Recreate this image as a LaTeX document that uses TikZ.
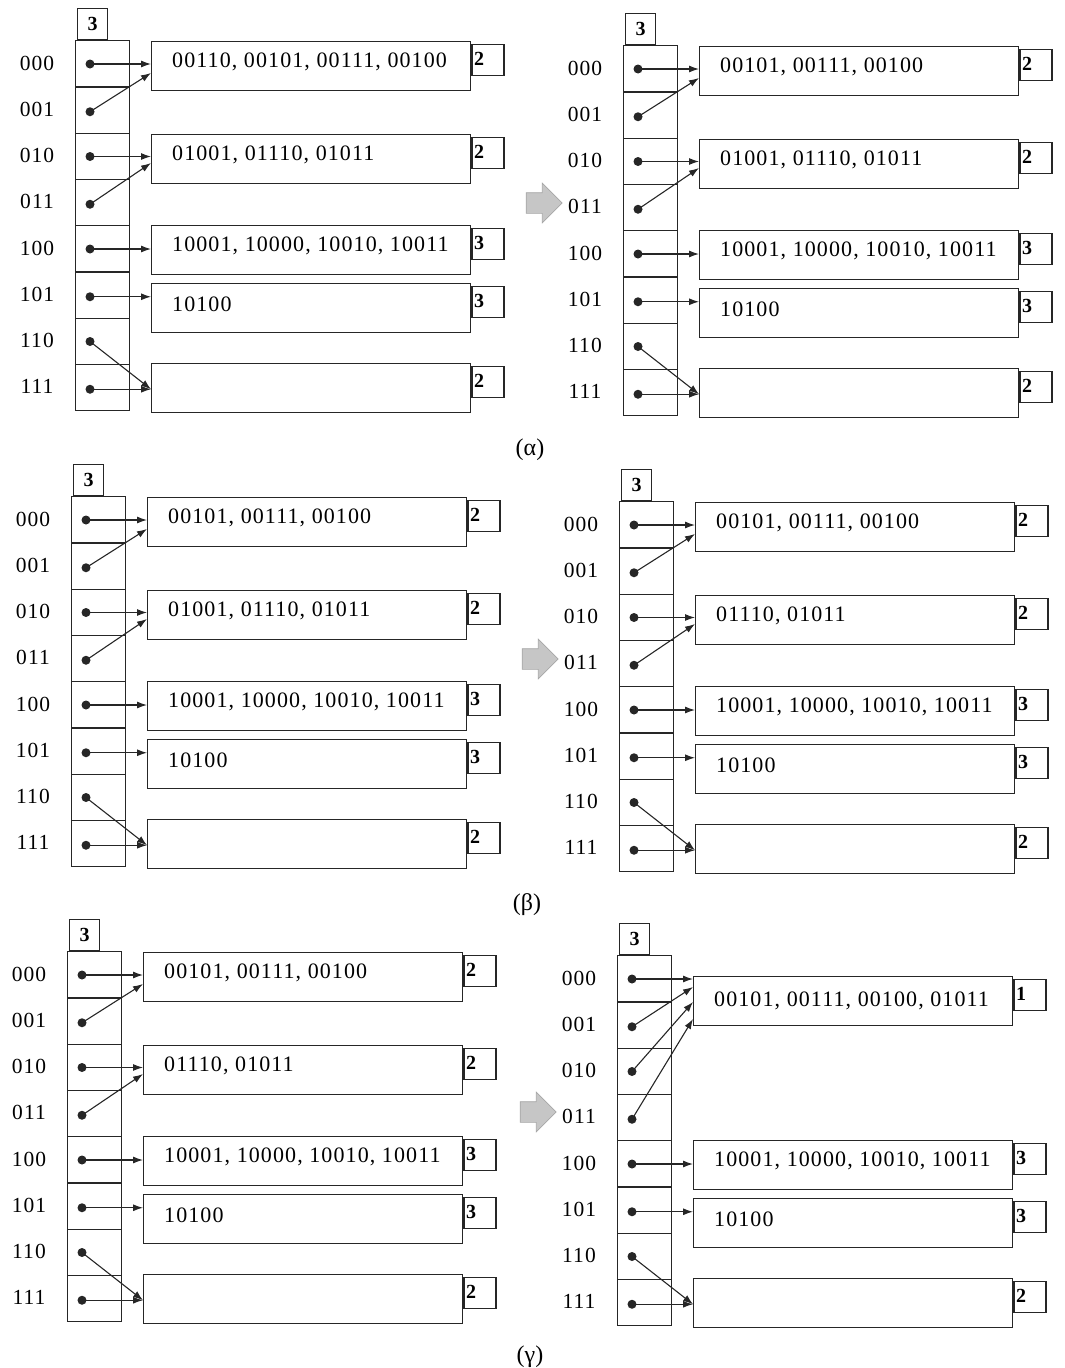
\documentclass[tikz,border=0pt]{standalone}
\usepackage{fontspec}
\setmainfont{Liberation Serif}
\newfontfamily\bfont[LetterSpace=5]{Liberation Serif}
\usetikzlibrary{arrows.meta,calc,shapes.arrows}

\tikzset{
  ln/.style={draw=black!85, line width=1.4pt},
  dircell/.style={ln, minimum width=54pt, minimum height=46.25pt, inner sep=0pt, anchor=north west},
  gdbox/.style={ln, minimum width=30pt, minimum height=31pt, inner sep=0pt, anchor=south west, font=\fontsize{20}{20}\selectfont\bfseries},
  bucket/.style={ln, minimum width=319pt, minimum height=49pt, inner sep=0pt, anchor=north west},
  dbox/.style={ln, minimum width=32pt, minimum height=31pt, inner sep=0pt, anchor=north west},
  dnum/.style={anchor=north west, inner sep=0pt, font=\fontsize{20}{20}\selectfont\bfseries},
  btext/.style={anchor=west, inner sep=0pt, font=\bfont\fontsize{22}{22}\selectfont},
  lbl/.style={inner sep=0pt, font=\bfont\fontsize{21.5}{22}\selectfont},
  ptdot/.style={circle, fill=black!85, inner sep=0pt, minimum size=9pt},
  ptr/.style={draw=black!85, line width=1.1pt, -{Latex[length=10pt,width=7pt]}},
  blockarrow/.style={single arrow, fill=gray!45, draw=gray!70, line width=0.7pt, minimum height=36pt, minimum width=39pt, inner sep=10pt, single arrow head extend=9.5pt},
  captxt/.style={font=\fontsize{24}{24}\selectfont}
}

\newcommand\dirpanel[3]{%
  \node[gdbox] (#1g) at ({#2+77},{#3+40}) {3};
  \foreach \i/\b in {0/000,1/001,2/010,3/011,4/100,5/101,6/110,7/111}{
    \node[dircell] (#1c\i) at ({#2+75},{#3+40+46.25*\i}) {};
    \node[lbl] (#1l\i) at ({#2+37},{#3+63+46.25*\i}) {\b};
    \pgfmathsetmacro\dd{64+46.25*\i+1.5*mod(\i,2)}
    \node[ptdot] (#1d\i) at ({#2+90},{#3+\dd}) {};
  }}

\newcommand\mkbucket[6]{%
  \node[bucket] (#1) at ({#2},{#3}) {};
  \node[dbox] (#1k) at ($(#1.north east)+(0,3)$) {};
  \node[dnum] (#1n) at ($(#1k.north west)+(2.5,8)$) {#5};
  \node[btext] (#1t) at ($(#1.north west)+(21,#6)$) {#4};
}

\newcommand\lowbuckets[3]{%
  \mkbucket{#1b3}{#2+151}{#3+225}{10001, 10000, 10010, 10011}{3}{21}
  \mkbucket{#1b4}{#2+151}{#3+283}{10100}{3}{21}
  \mkbucket{#1b5}{#2+151}{#3+363}{}{2}{21}
  \draw[ptr] (#1d4.center) -- (#1d4.center -| #1b3.west);
  \draw[ptr] (#1d5.center) -- (#1d5.center -| #1b4.west);
  \draw[ptr] (#1d6.center) -- (#1d7.center -| #1b5.west);
  \draw[ptr] (#1d7.center) -- (#1d7.center -| #1b5.west);
}

\newcommand\stdpanel[5]{%
  \dirpanel{#1}{#2}{#3}
  \mkbucket{#1b1}{#2+151}{#3+41}{#4}{2}{21}
  \mkbucket{#1b2}{#2+151}{#3+134}{#5}{2}{21}
  \draw[ptr] (#1d0.center) -- (#1d0.center -| #1b1.west);
  \draw[ptr] (#1d1.center) -- ($(#1b1.north west)+(0,32)$);
  \draw[ptr] (#1d2.center) -- (#1d2.center -| #1b2.west);
  \draw[ptr] (#1d3.center) -- ($(#1b2.north west)+(0,29)$);
  \lowbuckets{#1}{#2}{#3}
}

\begin{document}
\begin{tikzpicture}[x=1pt, y=-1pt]
\useasboundingbox (0,0) rectangle (1065,1368);

% (alpha)
\stdpanel{aL}{0}{0}{00110, 00101, 00111, 00100}{01001, 01110, 01011}
\stdpanel{aR}{548}{5}{00101, 00111, 00100}{01001, 01110, 01011}
\node[blockarrow] (arA) at (539,203) {};
\node[captxt] (capA) at (530,450) {(α)};

% (beta)
\stdpanel{bL}{-4}{456}{00101, 00111, 00100}{01001, 01110, 01011}
\stdpanel{bR}{544}{461}{00101, 00111, 00100}{01110, 01011}
\node[blockarrow] (arB) at (535,659) {};
\node[captxt] (capB) at (527,905) {(β)};

% (gamma)
\stdpanel{gL}{-8}{911}{00101, 00111, 00100}{01110, 01011}
\dirpanel{gR}{542}{915}
\mkbucket{gRb1}{542+151}{915+61}{00101, 00111, 00100, 01011}{1}{25}
\draw[ptr] (gRd0.center) -- (gRd0.center -| gRb1.west);
\draw[ptr] (gRd1.center) -- ($(gRb1.north west)+(0,11)$);
\draw[ptr] (gRd2.center) -- ($(gRb1.north west)+(0,26)$);
\draw[ptr] (gRd3.center) -- ($(gRb1.north west)+(0,43)$);
\lowbuckets{gR}{542}{915}
\node[blockarrow] (arC) at (533,1112) {};
\node[captxt] (capC) at (530,1357) {(γ)};
\end{tikzpicture}
\end{document}
